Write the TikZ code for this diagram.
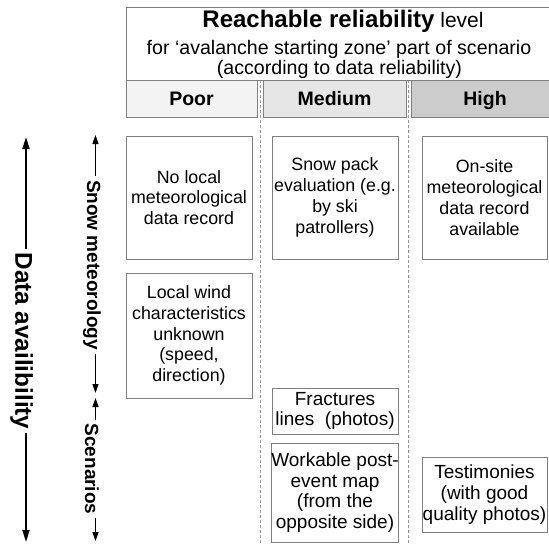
\documentclass[tikz,border=0pt]{standalone}
\usepackage{fontspec}
\setmainfont{Liberation Sans}
\usetikzlibrary{arrows.meta}

\definecolor{boxline}{HTML}{7F7F7F}
\definecolor{poorfill}{HTML}{F3F3F3}
\definecolor{medfill}{HTML}{E6E6E6}
\definecolor{highfill}{HTML}{CCCCCC}
\definecolor{sepline}{HTML}{9A9A9A}

\begin{document}
\begin{tikzpicture}[x=1pt,y=-1pt,
  cellbox/.style={draw=boxline, line width=0.9pt, rectangle, inner sep=0pt,
    align=center, fill=white},
  meteocell/.style={cellbox, font=\fontsize{17.8}{20.8}\selectfont},
  scencell/.style={cellbox, font=\fontsize{19}{20.8}\selectfont},
  colhead/.style={draw=boxline, line width=0.9pt, rectangle, inner sep=0pt,
    text height=15pt, text depth=2pt,
    minimum height=37pt, font=\fontsize{19.5}{22}\selectfont\bfseries},
  colsep/.style={draw=sepline, line width=0.8pt, dash pattern=on 3pt off 2pt},
  biglabel/.style={rotate=-90, inner sep=3.5pt, font=\fontsize{24.3}{28}\selectfont\bfseries},
  smalllabel/.style={rotate=-90, inner sep=3.5pt, font=\fontsize{19}{22}\selectfont\bfseries},
  bigarrow/.style={line width=1.8pt, -{Triangle[length=12pt,width=7pt]}},
  smallarrow/.style={line width=1.3pt, -{Triangle[length=9pt,width=6pt]}},
]
\useasboundingbox (0,0) rectangle (549,544);

% column separators
\coordinate (sepAtop) at (260,80);
\coordinate (sepAbot) at (260,544);
\coordinate (sepBtop) at (408,80);
\coordinate (sepBbot) at (408,544);
\draw[colsep] (sepAtop) -- (sepAbot);
\draw[colsep] (sepBtop) -- (sepBbot);

% heading block
\node[draw=boxline, line width=0.9pt, fill=white, minimum width=428pt,
  minimum height=73pt, inner sep=0pt] (head) at (340,43.5) {};
\node[anchor=base, inner sep=0pt, font=\fontsize{21}{24}\selectfont] (title1) at (343,27)
  {{\fontsize{24}{28}\selectfont\bfseries Reachable reliability} level};
\node[anchor=base, inner sep=0pt, font=\fontsize{19.6}{22}\selectfont] (title2) at (339,54)
  {for ‘avalanche starting zone’ part of scenario};
\node[anchor=base, inner sep=0pt, font=\fontsize{19.6}{22}\selectfont] (title3) at (339.5,74)
  {(according to data reliability)};

\node[colhead, fill=poorfill, minimum width=131pt] (poor) at (191.5,98.5) {Poor};
\node[colhead, fill=medfill, minimum width=143pt] (medium) at (334.5,98.5) {Medium};
\node[colhead, fill=highfill, minimum width=148pt] (high) at (485,98.5) {High};

% snow meteorology row
\node[meteocell, minimum width=126pt, minimum height=123pt] (nolocal) at (189,197.5)
  {No local\\meteorological\\data record};
\node[meteocell, minimum width=126pt, minimum height=123pt] (snowpack) at (335,197.5)
  {Snow pack\\evaluation (e.g.\\by ski\\patrollers)};
\node[meteocell, minimum width=125pt, minimum height=123pt] (onsite) at (484.5,197.5)
  {On-site\\meteorological\\data record\\available};
\node[meteocell, minimum width=126pt, minimum height=125pt] (localwind) at (189,335.5)
  {Local wind\\characteristics\\unknown\\(speed,\\direction)};

% scenario row
\node[scencell, minimum width=126pt, minimum height=46pt] (fractures) at (335,411)
  {Fractures\\lines\ \ (photos)};
\node[scencell, minimum width=126pt, minimum height=99pt] (workable) at (335,492.5)
  {Workable post-\\event map\\(from the\\opposite side)};
\node[scencell, minimum width=125pt, minimum height=75pt] (testim) at (484.5,494.5)
  {Testimonies\\(with good\\quality photos)};

% data availability axis
\node[biglabel] (avail) at (21.7,341) {Data availibility};
\coordinate (availtop) at (26,137);
\coordinate (availbot) at (26,542);
\draw[bigarrow] (availtop |- avail.west) -- (availtop);
\draw[bigarrow] (availbot |- avail.east) -- (availbot);

% snow meteorology axis
\node[smalllabel] (snowlbl) at (92,265) {Snow meteorology};
\coordinate (snowtop) at (95.5,135);
\coordinate (snowbot) at (95.5,393);
\draw[smallarrow] (snowtop |- snowlbl.west) -- (snowtop);
\draw[smallarrow] (snowbot |- snowlbl.east) -- (snowbot);

% scenarios axis
\node[smalllabel] (scenlbl) at (92,469) {Scenarios};
\coordinate (scentop) at (95.5,398);
\coordinate (scenbot) at (95.5,541);
\draw[smallarrow] (scentop |- scenlbl.west) -- (scentop);
\draw[smallarrow] (scenbot |- scenlbl.east) -- (scenbot);
\end{tikzpicture}
\end{document}
